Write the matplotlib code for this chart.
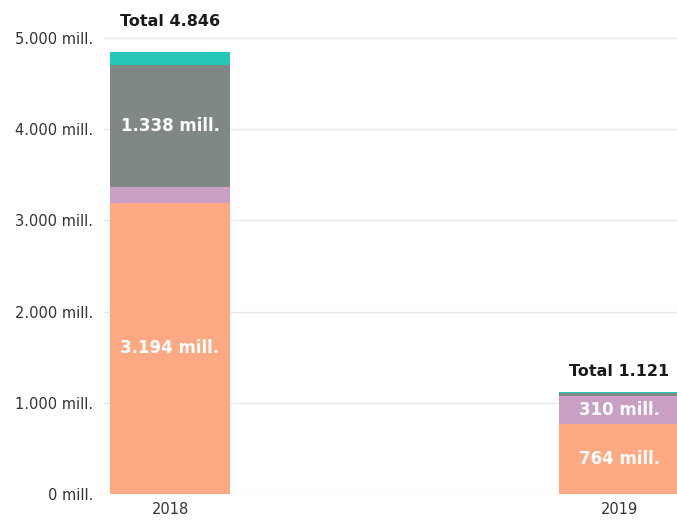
import numpy as np
import matplotlib.pyplot as plt

# data (million)
years = ['2018', '2019']
orange = [3194, 764]
pink = [172, 310]
gray = [1338, 33]
teal = [142, 14]
totals = ['4.846', '1.121']

colors = ['#FDAA84', '#C9A0C3', '#7F8787', '#26C6B8']
series = [orange, pink, gray, teal]
seg_labels = [['3.194 mill.', '764 mill.'], [None, '310 mill.'], ['1.338 mill.', None], [None, None]]

fig = plt.figure(figsize=(6.77, 5.22), dpi=100)
ax = fig.add_axes([0.1536, 0.0536, 0.8464, 0.889])

x = np.arange(len(years))
width = 0.267
bottom = np.zeros(len(years))
for vals, col, labs in zip(series, colors, seg_labels):
    vals = np.array(vals, dtype=float)
    ax.bar(x, vals, width, bottom=bottom, color=col, zorder=2)
    for i, lab in enumerate(labs):
        if lab:
            ax.text(x[i], bottom[i] + vals[i] / 2, lab, ha='center', va='center',
                    color='white', fontsize=12, fontweight='bold', zorder=3)
    bottom += vals

# total labels above bars (pixel offsets as in the original)
offs = [23, 13]
for i, t in enumerate(totals):
    ax.annotate('Total ' + t, (x[i], bottom[i]), xytext=(0, offs[i]),
                textcoords='offset pixels', ha='center', va='bottom',
                color='#1a1a1a', fontsize=11.5, fontweight='bold')

ax.set_xlim(-0.147, 1.129)
ax.set_ylim(0, 5088)
ax.set_yticks(np.arange(0, 5001, 1000))
ax.set_yticklabels([f'{v:,}'.replace(',', '.') + ' mill.' for v in range(0, 5001, 1000)])
ax.set_xticks(x)
ax.set_xticklabels(years)
ax.tick_params(axis='both', length=0, labelsize=10.5, colors='#333333')
ax.tick_params(axis='y', pad=8)
ax.tick_params(axis='x', pad=6)
ax.grid(axis='y', color='#E8E8E8', linewidth=1, zorder=0)
for s in ax.spines.values():
    s.set_visible(False)

plt.savefig('out.png', dpi=100)
